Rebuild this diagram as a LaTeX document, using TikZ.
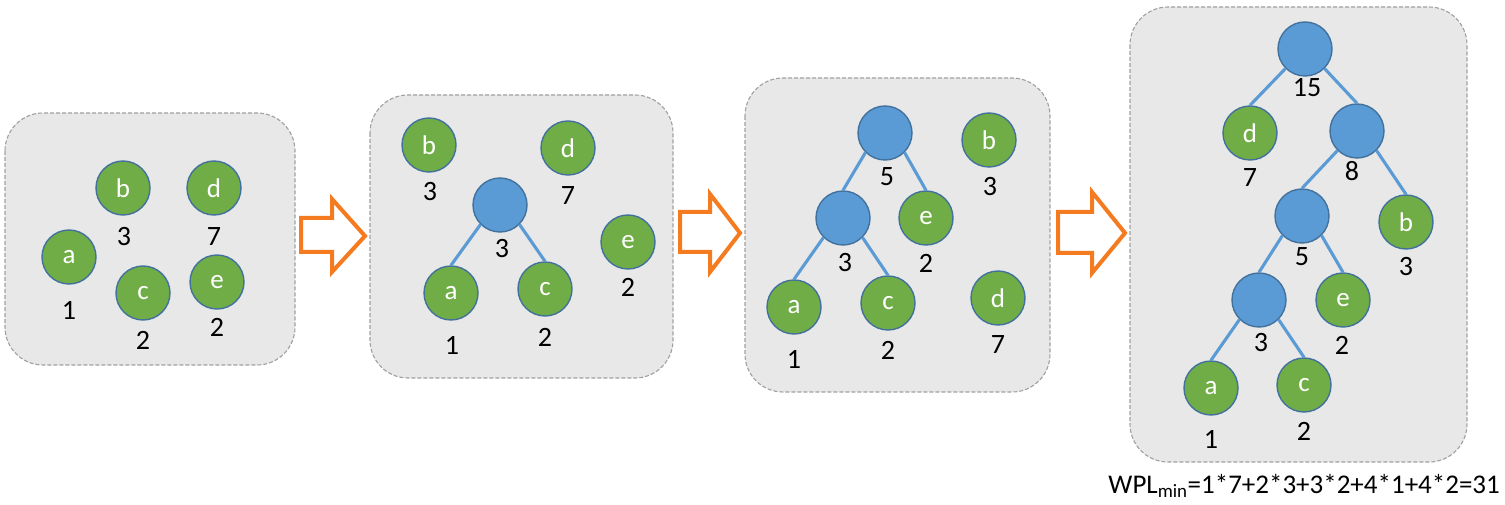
\documentclass[tikz,border=0pt]{standalone}
\usepackage{fontspec}
\setmainfont{Carlito}
\definecolor{leafgreen}{HTML}{70AD47}
\definecolor{inblue}{HTML}{5B9BD5}
\definecolor{rimblue}{HTML}{41719C}
\definecolor{panelgray}{HTML}{E8E8E8}
\definecolor{dashgray}{HTML}{A0A0A0}
\definecolor{arroworange}{HTML}{F47B20}
\tikzset{
  panel/.style={fill=panelgray, draw=dashgray, line width=1.1pt, dash pattern=on 4pt off 2pt, rounded corners=38pt},
  leaf/.style={circle, fill=leafgreen, draw=rimblue, line width=1.4pt, minimum size=54pt, inner sep=0pt, text=white, font=\fontsize{27}{27}\selectfont},
  inner/.style={circle, fill=inblue, draw=rimblue, line width=1.4pt, minimum size=54pt, inner sep=0pt},
  lbl/.style={inner sep=0pt, font=\fontsize{28}{28}\selectfont},
  edge/.style={draw=inblue, line width=3.1pt},
  bigarrow/.style={draw=arroworange, fill=white, line width=4pt, line join=miter}
}
\begin{document}
\begin{tikzpicture}[x=1pt,y=-1pt]
\useasboundingbox (0,0) rectangle (1505,505);
\fill[white] (0,0) rectangle (1505,505);
% panels
\draw[panel] (5,113) rectangle (295,365);
\draw[panel] (370,95) rectangle (673,378);
\draw[panel] (745,78) rectangle (1050,392);
\draw[panel] (1130,7) rectangle (1467,462);
% arrows
\draw[bigarrow] (301,218) -- (332,218) -- (332,199) -- (365,236) -- (332,272) -- (332,252) -- (301,252) -- cycle;
\draw[bigarrow] (680,212) -- (710,212) -- (710,194) -- (740,233) -- (710,272) -- (710,252) -- (680,252) -- cycle;
\draw[bigarrow] (1058,212) -- (1092,212) -- (1092,192) -- (1125,233) -- (1092,273) -- (1092,253) -- (1058,253) -- cycle;
% panel 1
\node[leaf] (p1a) at (69,257) {a};
\node[leaf] (p1b) at (123,188) {b};
\node[leaf] (p1c) at (143,293) {c};
\node[leaf] (p1d) at (214,188) {d};
\node[leaf] (p1e) at (217,282) {e};
\node[lbl] (l1a) at (69,310) {1};
\node[lbl] (l1b) at (124,237) {3};
\node[lbl] (l1c) at (143,340) {2};
\node[lbl] (l1d) at (214,237) {7};
\node[lbl] (l1e) at (217,327) {2};
% panel 2
\node[leaf] (p2b) at (429,145) {b};
\node[leaf] (p2d) at (568,148) {d};
\node[inner] (p2n3) at (500,205) {};
\node[leaf] (p2a) at (451,293) {a};
\node[leaf] (p2c) at (545,289) {c};
\node[leaf] (p2e) at (628,242) {e};
\node[lbl] (l2b) at (430,192) {3};
\node[lbl] (l2d) at (568,196) {7};
\node[lbl] (l2n3) at (502,249) {3};
\node[lbl] (l2a) at (452,345) {1};
\node[lbl] (l2c) at (545,337) {2};
\node[lbl] (l2e) at (628,287) {2};
\draw[edge] (p2n3.south west) -- (p2a.north);
\draw[edge] (p2n3.south east) -- (p2c.north);
% panel 3
\node[inner] (p3n5) at (885,133) {};
\node[inner] (p3n3) at (843,218) {};
\node[leaf] (p3e) at (926,218) {e};
\node[leaf] (p3a) at (794,307) {a};
\node[leaf] (p3c) at (888,303) {c};
\node[leaf] (p3b) at (989,140) {b};
\node[leaf] (p3d) at (998,298) {d};
\node[lbl] (l3n5) at (887,177) {5};
\node[lbl] (l3n3) at (845,263) {3};
\node[lbl] (l3e) at (926,263) {2};
\node[lbl] (l3a) at (794,359) {1};
\node[lbl] (l3c) at (888,350) {2};
\node[lbl] (l3b) at (990,187) {3};
\node[lbl] (l3d) at (998,345) {7};
\draw[edge] (p3n5.south west) -- (p3n3.north);
\draw[edge] (p3n5.south east) -- (p3e.north);
\draw[edge] (p3n3.south west) -- (p3a.north);
\draw[edge] (p3n3.south east) -- (p3c.north);
% panel 4
\node[inner] (p4n15) at (1305,49) {};
\node[leaf] (p4d) at (1250,133) {d};
\node[inner] (p4n8) at (1357,131) {};
\node[inner] (p4n5) at (1302,216) {};
\node[leaf] (p4b) at (1406,222) {b};
\node[inner] (p4n3) at (1259,300) {};
\node[leaf] (p4e) at (1343,300) {e};
\node[leaf] (p4a) at (1211,388) {a};
\node[leaf] (p4c) at (1304,385) {c};
\node[lbl] (l4n15) at (1307,88) {15};
\node[lbl] (l4d) at (1250,178) {7};
\node[lbl] (l4n8) at (1352,171) {8};
\node[lbl] (l4n5) at (1302,257) {5};
\node[lbl] (l4b) at (1406,267) {3};
\node[lbl] (l4n3) at (1261,343) {3};
\node[lbl] (l4e) at (1342,345) {2};
\node[lbl] (l4a) at (1211,439) {1};
\node[lbl] (l4c) at (1304,431) {2};
\draw[edge] (p4n15.south west) -- (p4d.north);
\draw[edge] (p4n15.south east) -- (p4n8.north);
\draw[edge] (p4n8.south west) -- (p4n5.north);
\draw[edge] (p4n8.south east) -- (p4b.north);
\draw[edge] (p4n5.south west) -- (p4n3.north);
\draw[edge] (p4n5.south east) -- (p4e.north);
\draw[edge] (p4n3.south west) -- (p4a.north);
\draw[edge] (p4n3.south east) -- (p4c.north);
% formula
\node[inner sep=0pt, anchor=base east, font=\fontsize{27}{27}\selectfont] (wpl) at (1500,493) {WPL\textsubscript{min}=1*7+2*3+3*2+4*1+4*2=31};
\end{tikzpicture}
\end{document}
